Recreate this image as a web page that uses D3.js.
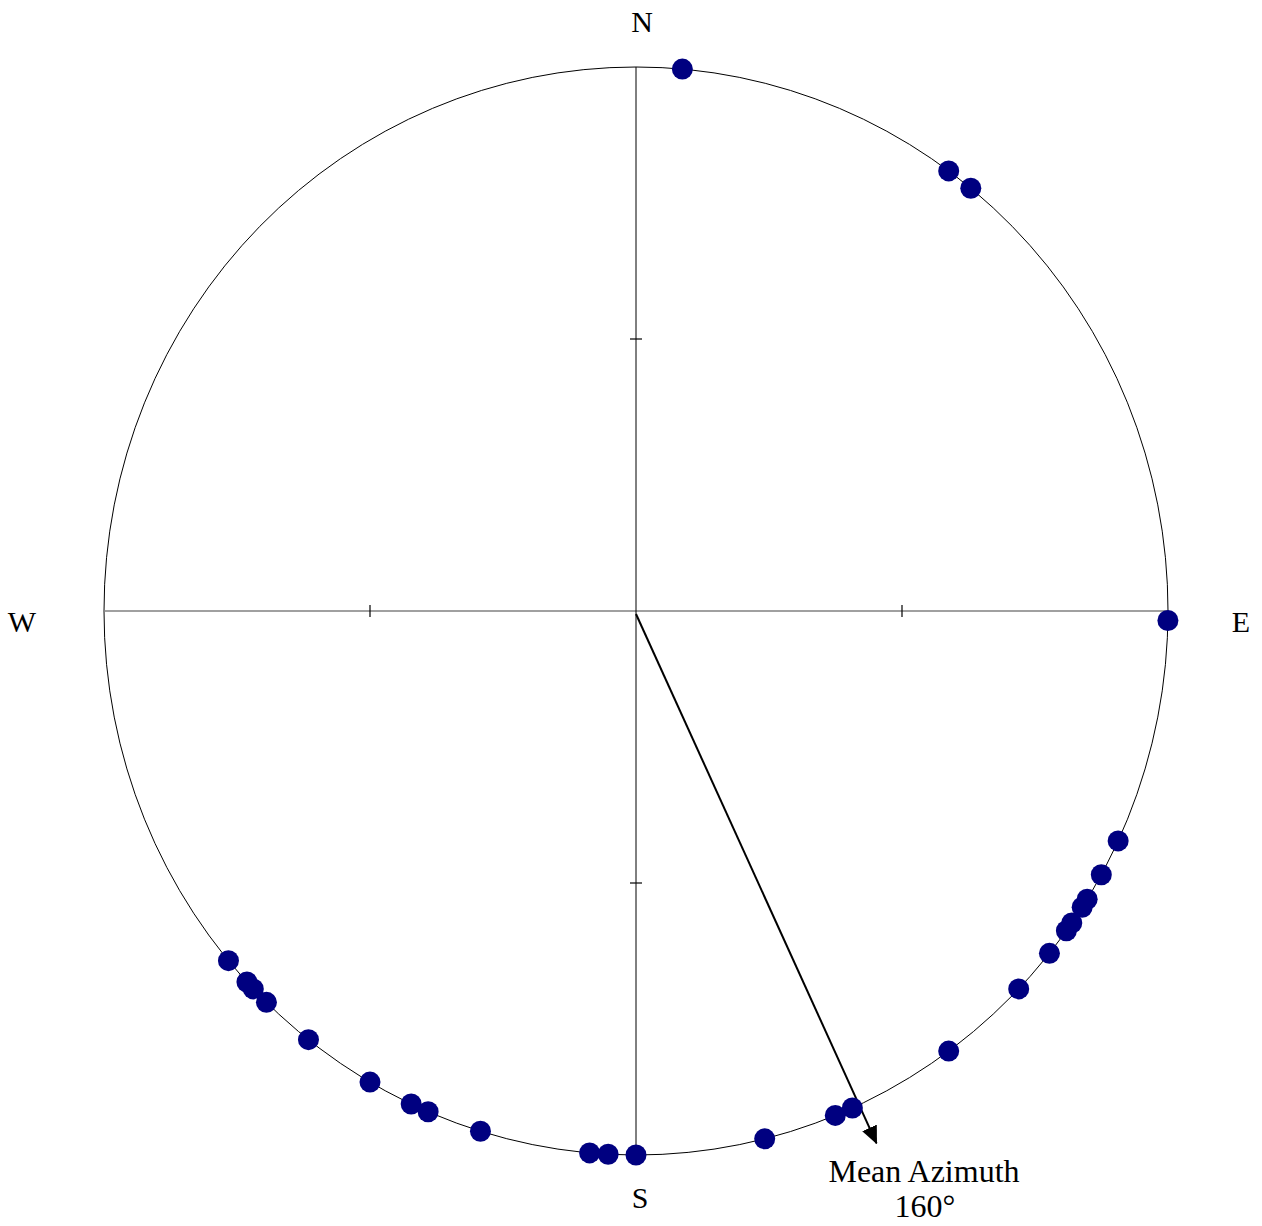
<!DOCTYPE html>
<html>
<head>
<meta charset="utf-8">
<script src="https://cdn.jsdelivr.net/npm/d3@7"></script>
<style>
    body { margin: 0; background: #fff; }
    svg { display: block; }
    text { font-family: "Liberation Serif", "Times New Roman", serif; fill: #000; }
</style>
</head>
<body>
<svg id="chart" width="1262" height="1226"></svg>
<script>
// Azimuths (degrees clockwise from north) of each measurement
const azimuths = [5, 36, 39, 91, 115, 119, 122, 123, 125, 126, 129, 134, 144, 156, 158,
    166, 180, 183, 185, 197, 203, 205, 210, 218, 224, 226, 227, 230];
// Compass labels
const compass = [
    {label: 'N', az: 0},
    {label: 'E', az: 90},
    {label: 'S', az: 180},
    {label: 'W', az: 270}
];
const tickRadii = [0.5];
const meanAzimuth = 160;
// direction / length of the arrow as it is drawn in the figure
const arrowAz = 155.2;
const arrowLen = 1.078;

const svg = d3.select('#chart');

// *********************** SCALES (unit circle -> pixels)
let x = d3.scaleLinear().domain([-1, 1]).range([104, 1168]);
let y = d3.scaleLinear().domain([-1, 1]).range([1155, 67]);
const rad = a => a * Math.PI / 180;
const px = (az, r) => x(r * Math.sin(rad(az)));
const py = (az, r) => y(r * Math.cos(rad(az)));

// *********************** FRAME
svg.append('ellipse')
    .attr('cx', x(0)).attr('cy', y(0))
    .attr('rx', x(1) - x(0)).attr('ry', y(0) - y(1))
    .style('fill', 'none').style('stroke', '#000').style('stroke-width', 1);

// horizontal (W-E) axis is grey, vertical (N-S) axis is black
svg.append('line')
    .attr('x1', x(-1)).attr('x2', x(1)).attr('y1', y(0)).attr('y2', y(0))
    .style('stroke', '#808080').style('stroke-width', 1.5);
svg.append('line')
    .attr('x1', x(0)).attr('x2', x(0)).attr('y1', y(1)).attr('y2', y(-1))
    .style('stroke', '#000').style('stroke-width', 1);

// ticks at half radius
const tickLen = 6;
tickRadii.forEach(r => {
    [-r, r].forEach(v => {
        svg.append('line')
            .attr('x1', x(v)).attr('x2', x(v))
            .attr('y1', y(0) - tickLen).attr('y2', y(0) + tickLen)
            .style('stroke', '#000').style('stroke-width', 1.2);
        svg.append('line')
            .attr('x1', x(0) - tickLen).attr('x2', x(0) + tickLen)
            .attr('y1', y(v)).attr('y2', y(v))
            .style('stroke', '#000').style('stroke-width', 1.2);
    });
});

// *********************** COMPASS LABELS
const labelPos = {
    N: [x(0) + 6, 32],
    E: [1241, 632],
    S: [640, 1208],
    W: [22, 632]
};
svg.append('g')
    .selectAll('text')
    .data(compass)
    .join('text')
        .attr('x', d => labelPos[d.label][0])
        .attr('y', d => labelPos[d.label][1])
        .attr('text-anchor', 'middle')
        .style('font-size', '30px')
        .text(d => d.label);

// *********************** MEAN ARROW
svg.append('defs').append('marker')
    .attr('id', 'head')
    .attr('markerUnits', 'userSpaceOnUse')
    .attr('markerWidth', 18).attr('markerHeight', 16)
    .attr('refX', 17).attr('refY', 8)
    .attr('orient', 'auto')
    .append('path')
        .attr('d', 'M0,0 L18,8 L0,16 Z')
        .style('fill', '#000');

svg.append('line')
    .attr('x1', x(0)).attr('y1', y(0) + 3)
    .attr('x2', px(arrowAz, arrowLen)).attr('y2', py(arrowAz, arrowLen))
    .style('stroke', '#000').style('stroke-width', 2)
    .attr('marker-end', 'url(#head)');

// *********************** POINTS
svg.append('g')
    .selectAll('circle')
    .data(azimuths)
    .join('circle')
        .attr('cx', d => px(d, 1))
        .attr('cy', d => py(d, 1))
        .attr('r', 10.5)
        .style('fill', '#000080')
        .style('stroke', 'none');

// *********************** MEAN LABEL
const lab = svg.append('text')
    .attr('text-anchor', 'middle')
    .style('font-size', '32px');
lab.append('tspan').attr('x', 924).attr('y', 1182).text('Mean Azimuth');
lab.append('tspan').attr('x', 925).attr('y', 1217).text(meanAzimuth + '°');
</script>
</body>
</html>
